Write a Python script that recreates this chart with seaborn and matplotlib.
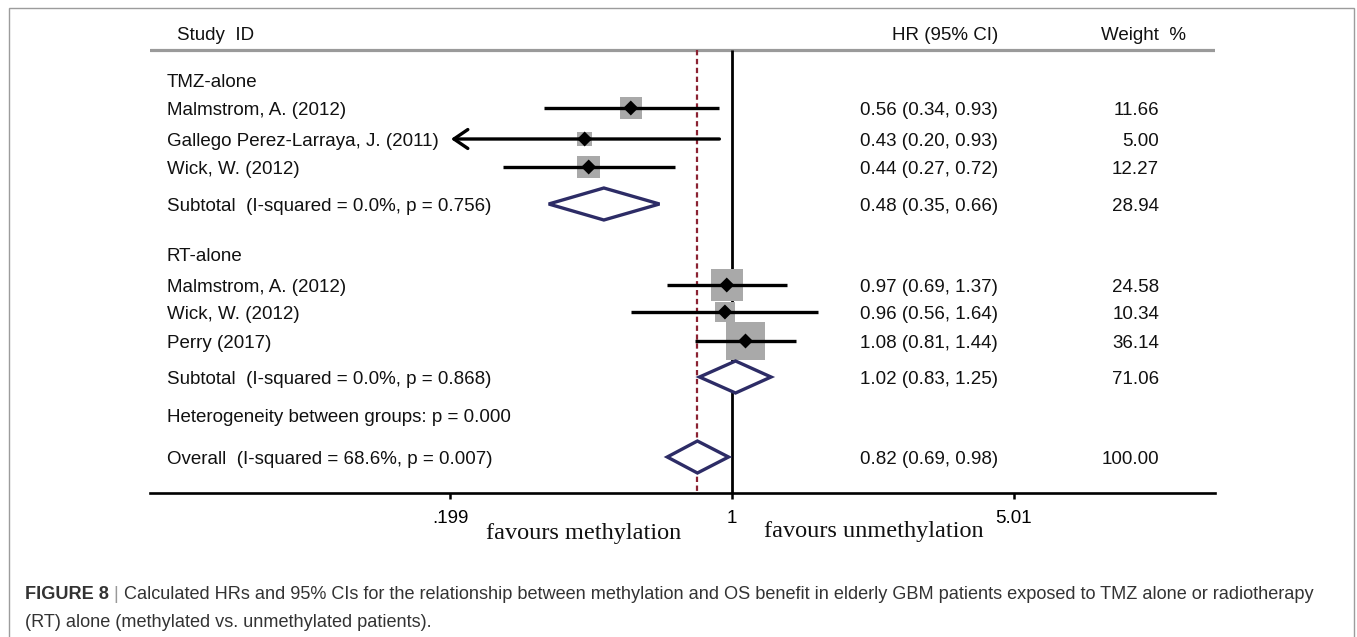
import numpy as np
import pandas as pd
import matplotlib
matplotlib.use("Agg")
import matplotlib.pyplot as plt
import matplotlib.patches as mpatches
import seaborn as sns

# ---- study-level data -------------------------------------------------
tmz_studies = ["Malmstrom, A. (2012)", "Gallego Perez-Larraya, J. (2011)", "Wick, W. (2012)"]
tmz_hr = [0.56, 0.43, 0.44]
tmz_lo = [0.34, 0.20, 0.27]
tmz_hi = [0.93, 0.93, 0.72]
tmz_weight = [11.66, 5.00, 12.27]

rt_studies = ["Malmstrom, A. (2012)", "Wick, W. (2012)", "Perry (2017)"]
rt_hr = [0.97, 0.96, 1.08]
rt_lo = [0.69, 0.56, 0.81]
rt_hi = [1.37, 1.64, 1.44]
rt_weight = [24.58, 10.34, 36.14]

# pooled estimates: HR, lower, upper, weight
tmz_pooled = [0.48, 0.35, 0.66, 28.94]
rt_pooled = [1.02, 0.83, 1.25, 71.06]
overall_pooled = [0.82, 0.69, 0.98, 100.00]

tmz_label = "Subtotal  (I-squared = 0.0%, p = 0.756)"
rt_label = "Subtotal  (I-squared = 0.0%, p = 0.868)"
overall_label = "Overall  (I-squared = 68.6%, p = 0.007)"
between_label = "Heterogeneity between groups: p = 0.000"

tick_values = [0.199, 1.0, 5.01]
tick_labels = [".199", "1", "5.01"]

# ---- layout (figure pixels, y measured from the top) ------------------
W, H = 1357, 637
AX_L, AX_R, AX_T, AX_B = 150, 1215, 20, 493
HEADER_Y, RULE_Y = 33, 50
tmz_head_y, tmz_rows_y, tmz_sub_y = 80, [108, 139, 167], 204
rt_head_y, rt_rows_y, rt_sub_y = 254, [285, 312, 341], 377
between_y, overall_y = 415, 457
tmz_arrow_low = [False, True, False]      # CI runs off the left of the scale
rt_arrow_low = [False, False, False]
DIAMOND_HALF = 16
TEXT_DROP = 2.5
X_MIN, X_MAX = 0.0357, 15.88

sns.set_style("white")
plt.rcParams["font.family"] = ["Liberation Sans", "DejaVu Sans"]

fig = plt.figure(figsize=(W / 100, H / 100), dpi=100)
ax = fig.add_axes([AX_L / W, 1 - AX_B / H, (AX_R - AX_L) / W, (AX_B - AX_T) / H])
ax.set_xscale("log")
ax.set_xlim(X_MIN, X_MAX)
ax.set_ylim(AX_B, AX_T)

def fx(px):
    """axes fraction for a horizontal pixel position"""
    return (px - AX_L) / (AX_R - AX_L)

TXT = 13.5
ink = "#111111"
navy = "#2d2c66"
square_grey = "#a9a9a9"

# study rows as one table
studies = pd.DataFrame({
    "study": tmz_studies + rt_studies,
    "hr": tmz_hr + rt_hr,
    "lo": tmz_lo + rt_lo,
    "hi": tmz_hi + rt_hi,
    "weight": tmz_weight + rt_weight,
    "y": tmz_rows_y + rt_rows_y,
    "arrow": tmz_arrow_low + rt_arrow_low,
})

# header rule and reference lines
ax.axhline(RULE_Y, color="#9a9a9a", lw=2.3, zorder=1)
ax.vlines(1.0, RULE_Y, AX_B, color="black", lw=2.0, zorder=2)
ax.vlines(overall_pooled[0], RULE_Y, AX_B, color="#8b2232", lw=1.6,
          linestyle=(0, (2.4, 1.6)), zorder=2)

# weight squares (area proportional to weight)
wmax = studies["weight"].max()
sns.scatterplot(data=studies, x="hr", y="y", size="weight", marker="s",
                size_norm=(0, wmax), sizes=(0, 21.5 * wmax), color=square_grey,
                edgecolor="none", legend=False, ax=ax, zorder=3)

# confidence intervals
for _, r in studies.iterrows():
    if r["arrow"]:
        ax.annotate("", xy=(r["lo"], r["y"]), xytext=(r["hi"], r["y"]),
                    arrowprops=dict(arrowstyle="->,head_length=0.5,head_width=0.34",
                                    lw=2.4, color="black", shrinkA=0, shrinkB=0,
                                    mutation_scale=20), zorder=4)
    else:
        ax.hlines(r["y"], r["lo"], r["hi"], color="black", lw=2.4, zorder=4)

# point estimates
sns.scatterplot(data=studies, x="hr", y="y", marker="D", s=58, color="black",
                edgecolor="none", legend=False, ax=ax, zorder=5)

# pooled diamonds
for est, yy in [(tmz_pooled, tmz_sub_y), (rt_pooled, rt_sub_y), (overall_pooled, overall_y)]:
    hr, lo, hi, _ = est
    ax.fill([lo, hr, hi, hr], [yy, yy - DIAMOND_HALF, yy, yy + DIAMOND_HALF],
            facecolor="white", edgecolor=navy, lw=2.4, zorder=6, joinstyle="miter")

# text columns
lab_x, hr_x, w_x = fx(167), fx(998), fx(1159)
tr = ax.get_yaxis_transform()  # x in axes fraction, y in data

def put(x, y, s, ha="left", size=TXT, **kw):
    ax.text(x, y + TEXT_DROP, s, transform=tr, ha=ha, va="center", fontsize=size,
            color=ink, clip_on=False, **kw)

put(fx(177), HEADER_Y, "Study  ID")
put(hr_x, HEADER_Y, "HR (95% CI)", ha="right")
put(fx(1186), HEADER_Y, "Weight  %", ha="right")

put(lab_x, tmz_head_y, "TMZ-alone")
put(lab_x, rt_head_y, "RT-alone")
for _, r in studies.iterrows():
    put(lab_x, r["y"], r["study"])
    put(hr_x, r["y"], f"{r['hr']:.2f} ({r['lo']:.2f}, {r['hi']:.2f})", ha="right")
    put(w_x, r["y"], f"{r['weight']:.2f}", ha="right")

for est, yy, lab in [(tmz_pooled, tmz_sub_y, tmz_label), (rt_pooled, rt_sub_y, rt_label),
                     (overall_pooled, overall_y, overall_label)]:
    put(lab_x, yy, lab)
    put(hr_x, yy, f"{est[0]:.2f} ({est[1]:.2f}, {est[2]:.2f})", ha="right")
    put(w_x, yy, f"{est[3]:.2f}", ha="right")
put(lab_x, between_y, between_label)

# x axis
for side in ["top", "right", "left"]:
    ax.spines[side].set_visible(False)
ax.spines["bottom"].set_linewidth(1.9)
ax.spines["bottom"].set_color("black")
ax.set_xticks(tick_values)
ax.set_xticklabels(tick_labels)
ax.xaxis.set_minor_locator(matplotlib.ticker.NullLocator())
ax.tick_params(axis="x", direction="out", length=4, width=1.8, pad=8,
               labelsize=TXT, colors="black", bottom=True)
ax.set_yticks([])
ax.set_xlabel("")
ax.set_ylabel("")

serif = ["Liberation Serif", "DejaVu Serif"]
put(fx(584), 531, "favours methylation", ha="center", size=17.5, family=serif)
put(fx(874), 528.5, "favours unmethylation", ha="center", size=17.5, family=serif)

# figure frame
fig.add_artist(mpatches.Rectangle((9 / W, -0.01), (1354 - 9) / W, 1 - 8 / H + 0.01,
                                  transform=fig.transFigure, fill=False,
                                  edgecolor="#9c9c9c", lw=1.0))

# caption
cap_col = "#333333"
CAP = 13.05
line1_y = 1 - 599 / H
line2_y = 1 - 627 / H
renderer = fig.canvas.get_renderer()
t1 = fig.text(25 / W, line1_y, "FIGURE 8", fontsize=CAP, fontweight="bold",
              color=cap_col, va="baseline", ha="left")
x1 = t1.get_window_extent(renderer).x1 / W
t2 = fig.text(x1, line1_y, " | ", fontsize=CAP, color="#999999", va="baseline", ha="left")
x2 = t2.get_window_extent(renderer).x1 / W
fig.text(x2, line1_y,
         "Calculated HRs and 95% CIs for the relationship between methylation and OS benefit "
         "in elderly GBM patients exposed to TMZ alone or radiotherapy",
         fontsize=CAP, color=cap_col, va="baseline", ha="left")
fig.text(25 / W, line2_y, "(RT) alone (methylated vs. unmethylated patients).",
         fontsize=CAP, color=cap_col, va="baseline", ha="left")

fig.savefig("out.png", dpi=100)
